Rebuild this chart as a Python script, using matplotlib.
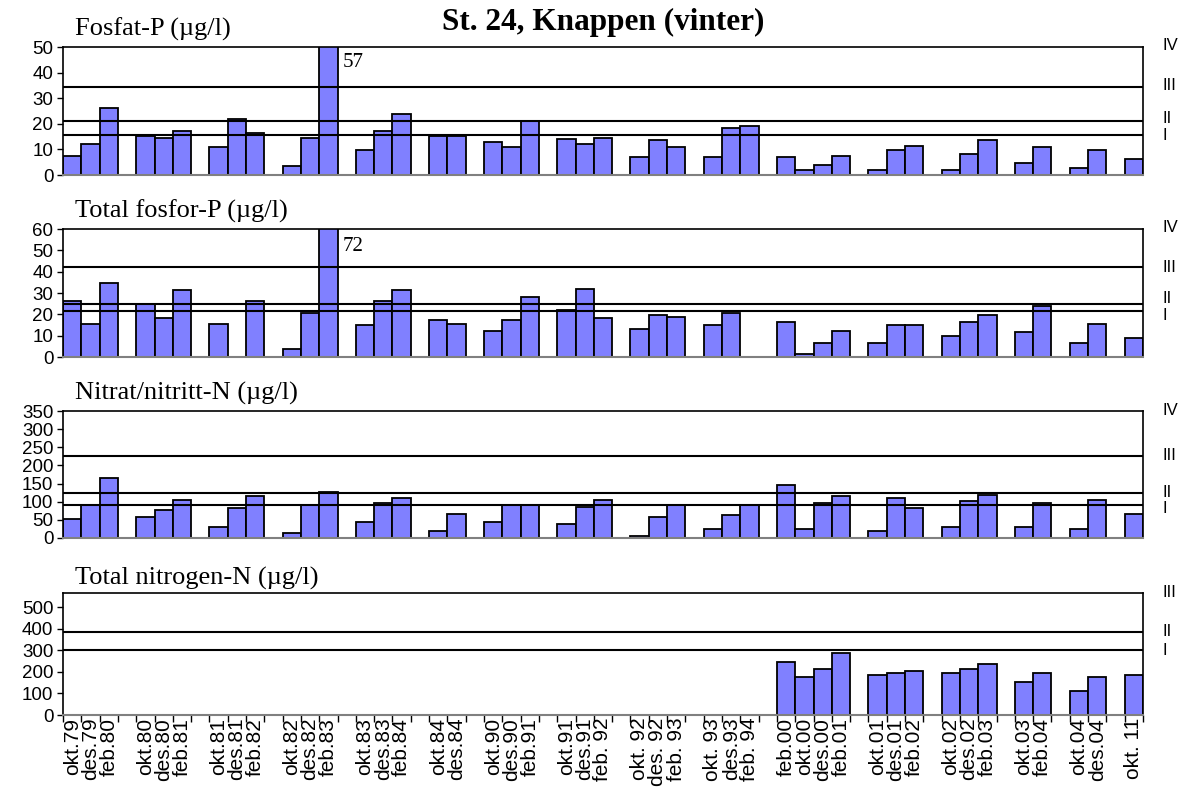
import numpy as np
import matplotlib
matplotlib.use('Agg')
import matplotlib.pyplot as plt
from matplotlib.transforms import blended_transform_factory

# sampling dates, in groups (a blank slot sits between groups)
dates = ['okt.79', 'des.79', 'feb.80',
         'okt.80', 'des.80', 'feb.81',
         'okt.81', 'des.81', 'feb.82',
         'okt.82', 'des.82', 'feb.83',
         'okt.83', 'des.83', 'feb.84',
         'okt.84', 'des.84',
         'okt.90', 'des.90', 'feb.91',
         'okt.91', 'des.91', 'feb. 92',
         'okt. 92', 'des. 92', 'feb. 93',
         'okt. 93', 'des.93', 'feb. 94',
         'feb.00', 'okt.00', 'des.00', 'feb.01',
         'okt.01', 'des.01', 'feb.02',
         'okt.02', 'des.02', 'feb.03',
         'okt.03', 'feb.04',
         'okt.04', 'des.04',
         'okt. 11']
group_sizes = [3, 3, 3, 3, 3, 2, 3, 3, 3, 3, 4, 3, 3, 2, 2, 1]

fosfat = [7.5, 12.3, 26.0, 15.2, 14.5, 17.1, 11.0, 21.9, 16.3, 3.5, 14.5, 57,
          9.6, 17.1, 23.8, 15.2, 15.4, 13.0, 11.0, 21.2, 13.9, 12.3, 14.4,
          6.9, 13.7, 11.0, 6.9, 18.4, 19.2, 6.9, 2.1, 4.1, 7.5, 2.1, 9.6, 11.5,
          2.1, 8.2, 13.7, 4.8, 11.0, 2.8, 9.6, 6.2]
tot_p = [26.3, 15.6, 34.6, 24.7, 18.1, 31.5, 15.6, np.nan, 26.3, 3.9, 20.6, 72,
         14.8, 26.3, 31.5, 17.2, 15.6, 12.3, 17.2, 28.0, 22.2, 32.1, 18.1,
         13.1, 19.7, 18.9, 14.8, 20.5, np.nan, 16.4, 1.6, 6.5, 12.3, 6.5, 14.8, 14.8,
         9.8, 16.4, 19.7, 11.5, 23.9, 6.5, 15.6, 9.0]
nitrat = [53, 91, 164, 59, 77, 106, 29, 82, 116, 14, 91, 126,
          43, 96, 111, 19, 67, 43, 91, 91, 38, 86, 106,
          5, 58, 91, 24, 63, 91, 145, 24, 96, 116, 19, 111, 82,
          29, 101, 119, 29, 96, 24, 106, 67]
tot_n = [np.nan] * 29 + [246, 177, 212, 288, 186, 194, 203,
                         194, 212, 237, 152, 194, 111, 177, 186]

# class limits per panel
fosfat_lines = [34.2, 21.2, 15.7]
totp_lines = [42, 24.7, 21.4]
nitrat_lines = [225, 125, 90]
totn_lines = [385, 300]

# slot positions
pos = []
p = 0
for g in group_sizes:
    pos += list(range(p, p + g))
    p += g + 1
pos = np.array(pos) + 0.5
nslots = 59

serif = 'Liberation Serif'
sans = 'Liberation Sans'
plt.rcParams['font.family'] = sans

W, H = 1184, 794
fig = plt.figure(figsize=(W / 100, H / 100), dpi=100)

panels = [
    ('Fosfat-P (µg/l)', fosfat, 50, np.arange(0, 51, 10), fosfat_lines,
     [('IV', 50.5), ('III', 34.8), ('II', 22.2), ('I', 15.6)], (47, 175, 29), '57', 44),
    ('Total fosfor-P (µg/l)', tot_p, 60, np.arange(0, 61, 10), totp_lines,
     [('IV', 60.5), ('III', 42), ('II', 27.2), ('I', 19.3)], (229, 357, 211), '72', 52),
    ('Nitrat/nitritt-N (µg/l)', nitrat, 350, np.arange(0, 351, 50), nitrat_lines,
     [('IV', 352), ('III', 228), ('II', 125), ('I', 82)], (411, 538, 393), None, None),
    ('Total nitrogen-N (µg/l)', tot_n, 565, np.arange(0, 501, 100), totn_lines,
     [('III', 568), ('II', 385), ('I', 300)], (593, 715, 578), None, None),
]

left, right = 63, 1143
for i, (title, vals, ymax, yt, lines, romans, (top, bot, ty), note, note_y) in enumerate(panels):
    ax = fig.add_axes([left / W, 1 - bot / H, (right - left) / W, (bot - top) / H])
    ax.bar(pos, vals, width=1.0, color='#8080ff', edgecolor='black', linewidth=1.3, zorder=2)
    for y in lines:
        ax.axhline(y, color='black', linewidth=1.5, zorder=3)
    ax.set_xlim(0, nslots)
    ax.set_ylim(0, ymax)
    ax.set_yticks(yt)
    ax.tick_params(axis='y', direction='out', length=4, width=1, labelsize=13.5, pad=3)
    for s in ['left', 'top', 'right']:
        ax.spines[s].set_color('black')
        ax.spines[s].set_linewidth(1.2)
    ax.spines['bottom'].set_color('#808080')
    ax.spines['bottom'].set_linewidth(1.5)
    ax.set_xticks(np.arange(0, nslots + 1))
    ax.set_xticklabels([])
    if i < 3:
        ax.tick_params(axis='x', length=0)
    else:
        ax.tick_params(axis='x', direction='out', length=5, width=1, color='black')
        ax.set_xticks(pos, minor=True)
        ax.set_xticklabels(dates, minor=True, rotation=90, va='top', fontsize=15)
        ax.tick_params(axis='x', which='minor', length=0, pad=2)

    trans = blended_transform_factory(ax.transAxes, ax.transData)
    for txt, y in romans:
        ax.text(1.018, y, txt, transform=trans, ha='left', va='center',
                fontsize=12, family=sans, clip_on=False)

    fig.text(75 / W, 1 - ty / H, title, ha='left', va='center',
             fontsize=19, family=serif)
    if note:
        ax.text(15.3, note_y, note, ha='left', va='center', fontsize=15, family=serif)

fig.text(603 / W, 1 - 22 / H, 'St. 24, Knappen (vinter)', ha='center', va='center',
         fontsize=22.5, family=serif, fontweight='bold')

fig.savefig('out.png', dpi=100)
